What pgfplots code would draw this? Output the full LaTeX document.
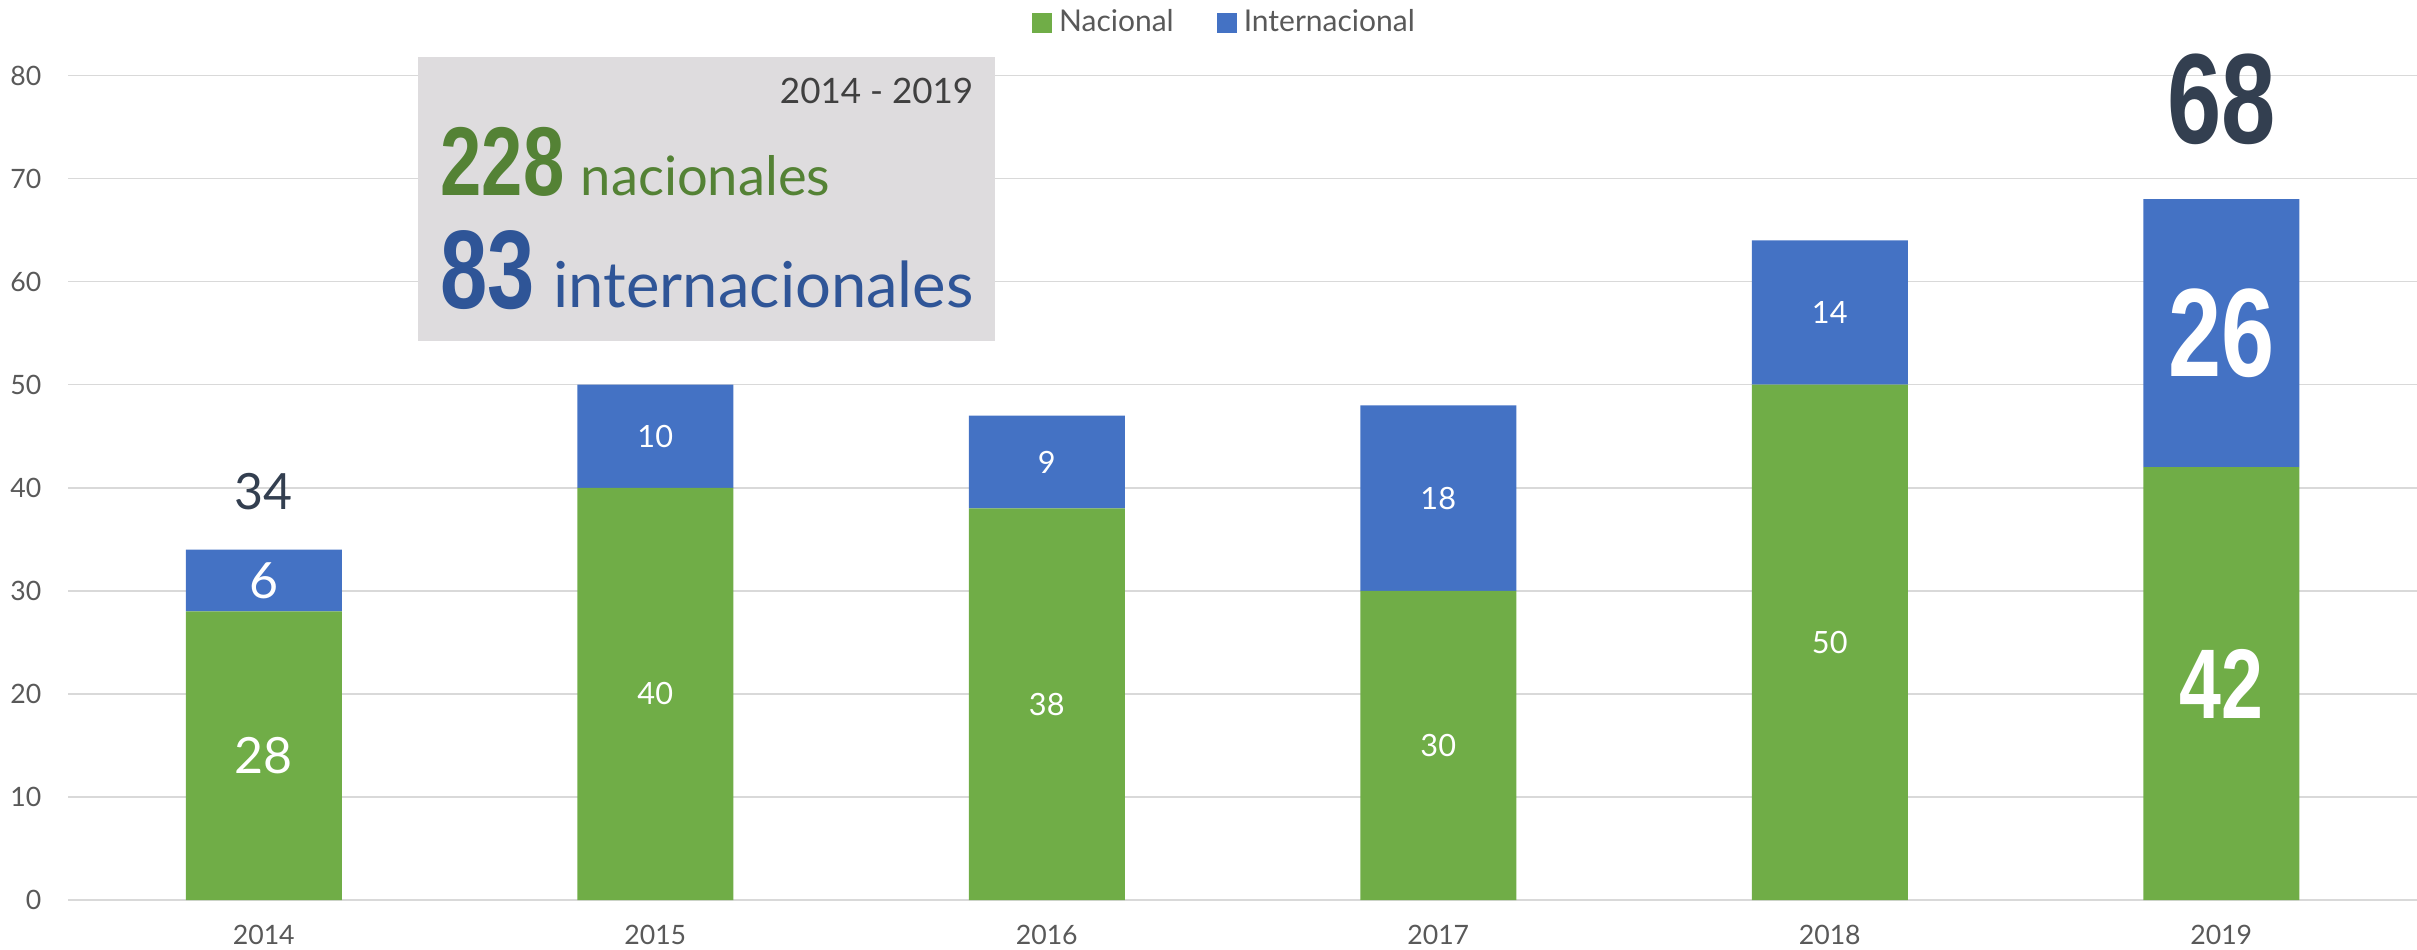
\documentclass[border=0pt]{standalone}
\usepackage{fontspec}
\setmainfont{Lato}
\newfontfamily\condfont{Liberation Sans}
\usepackage{graphicx}
\usepackage{pgfplots}
\pgfplotsset{compat=1.18}

\definecolor{natgreen}{HTML}{70AD47}
\definecolor{intblue}{HTML}{4472C4}
\definecolor{darkgreen}{HTML}{548235}
\definecolor{darkblue}{HTML}{2F5597}
\definecolor{slate}{HTML}{333F50}
\definecolor{gridgray}{HTML}{D9D9D9}
\definecolor{tickgray}{HTML}{595959}
\definecolor{boxgray}{HTML}{DEDCDE}
\definecolor{textdark}{HTML}{404040}

% condensed bold numbers
\newcommand{\cond}[2]{\scalebox{0.76}[1]{\condfont\bfseries\fontsize{#1}{#1}\selectfont #2}}

\pgfplotsset{
  common/.style={
    at={(0,0)}, anchor=south west,
    scale only axis, width=704.7pt, height=247.35pt,
    xmin=-0.5, xmax=5.5, ymin=0, ymax=80, enlargelimits=false,
  },
  lbl/.style={draw=none, nodes near coords, point meta=explicit symbolic,
    every node near coord/.append style={anchor=center, inner sep=0pt, #1}},
}

\begin{document}
\begin{tikzpicture}
\begin{axis}[
  common,
  ybar stacked,
  bar width=46.8pt,
  xtick={0,...,5},
  xticklabels={2014,2015,2016,2017,2018,2019},
  ytick={0,10,...,80},
  ymajorgrids,
  grid style={gridgray, line width=0.45pt},
  axis line style={draw=none},
  major tick length=0pt,
  tick label style={font=\fontsize{8}{9}\selectfont, text=tickgray},
  /pgf/number format/assume math mode=true,
  yticklabel style={xshift=-4.5pt},
  xticklabel style={yshift=-4pt},
  legend image code/.code={\fill[#1] (0pt,-3pt) rectangle (6pt,3pt);},
  legend style={at={(0.4934,1.0637)}, anchor=center, draw=none, fill=none,
    legend columns=2, font=\fontsize{9}{10}\selectfont, text=tickgray,
    /tikz/every even column/.append style={column sep=11pt}},
]
\addplot[fill=natgreen, draw=none] coordinates {(0,28) (1,40) (2,38) (3,30) (4,50) (5,42)};
\addplot[fill=intblue, draw=none] coordinates {(0,6) (1,10) (2,9) (3,18) (4,14) (5,26)};
\legend{Nacional, Internacional}
\end{axis}

\begin{axis}[common, hide axis, clip=false]
% summary box
\fill[boxgray] (axis cs:0.394,54.24) rectangle (axis cs:1.868,81.8);
\node[anchor=base east, inner sep=0pt, text=textdark, font=\fontsize{10.5}{12}\selectfont]
  at (axis cs:1.814,77.33) {2014 - 2019};
\node[anchor=base west, inner sep=0pt, text=darkgreen] at (axis cs:0.450,68.4) {\cond{29.3}{228}};
\node[anchor=base west, inner sep=0pt, text=darkgreen, font=\fontsize{16.3}{18}\selectfont]
  at (axis cs:0.808,68.4) {nacionales};
\node[anchor=base west, inner sep=0pt, text=darkblue] at (axis cs:0.450,57.44) {\cond{33.5}{83}};
\node[anchor=base west, inner sep=0pt, text=darkblue, font=\fontsize{19}{21}\selectfont]
  at (axis cs:0.739,57.5) {internacionales};

% segment labels
\addplot[lbl={font=\fontsize{9.2}{10}\selectfont, text=white}] coordinates {
  (1,20)[40] (2,19)[38] (3,15)[30] (4,25)[50]
  (1,45)[10] (2,42.5)[9] (3,39)[18] (4,57)[14]};
\addplot[lbl={font=\fontsize{15}{16}\selectfont, text=white}] coordinates {(0,14)[28] (0,31)[6]};
\addplot[lbl={font=\fontsize{15}{16}\selectfont, text=slate}] coordinates {(0,39.6)[34]};
\addplot[lbl={text=white}, nodes near coords={\cond{29.7}{\pgfplotspointmeta}}] coordinates {(5,21)[42]};
\addplot[lbl={text=white}, nodes near coords={\cond{37.7}{\pgfplotspointmeta}}] coordinates {(5,55)[26]};
\addplot[lbl={text=slate}, nodes near coords={\cond{38.5}{\pgfplotspointmeta}}] coordinates {(5,77.7)[68]};
\end{axis}

\pgfresetboundingbox
\useasboundingbox (-20.4pt,-14.7pt) rectangle (704.7pt,270pt);
\end{tikzpicture}
\end{document}
